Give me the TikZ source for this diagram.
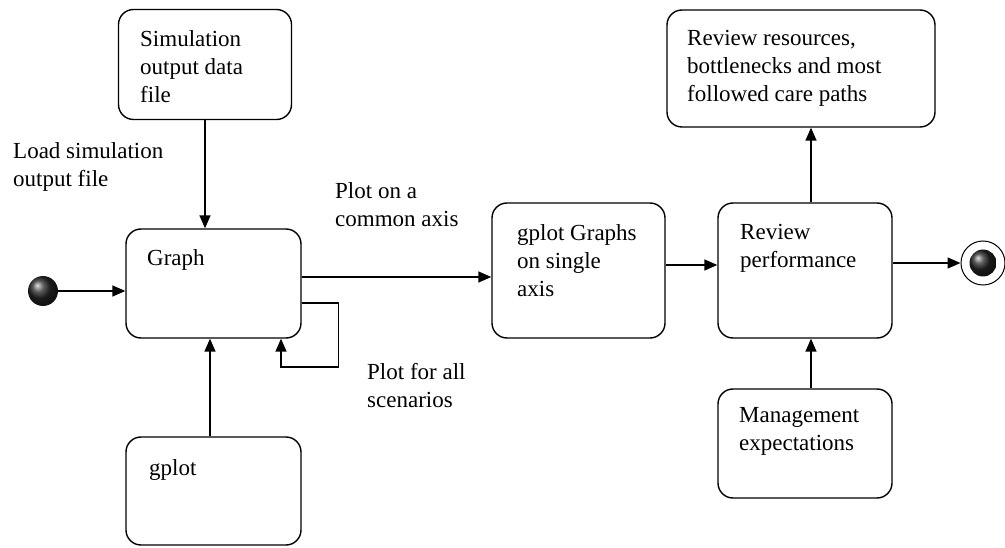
\documentclass[tikz,border=0pt]{standalone}
\usepackage{fontspec}
\setmainfont{Liberation Serif}
\usetikzlibrary{arrows.meta,shadings}
\begin{document}
\begin{tikzpicture}[x=1pt,y=-1pt,
    state/.style={draw, rounded corners=15pt, line width=1.4pt, inner sep=0pt},
    txt/.style={anchor=north west, align=left, inner sep=0pt,
      font=\fontsize{23}{28}\selectfont},
    flow/.style={line width=1.5pt, -{Triangle[length=13pt,width=11pt]}}]
  \useasboundingbox (0,0) rectangle (1005,548);
  % start and end points
  \node[circle, minimum size=30pt, inner sep=0pt, ball color=black!85] (start) at (43,291) {};
  \node[circle, draw, line width=1pt, minimum size=44pt, inner sep=0pt] (end) at (983,263) {};
  \shade[ball color=black!85] (end) circle (13.5pt);
  % states
  \node[state, minimum width=173pt, minimum height=110pt] (simfile) at (205,64.5) {};
  \node[state, minimum width=175pt, minimum height=109pt] (graph) at (213.5,283.5) {};
  \node[state, minimum width=175pt, minimum height=108pt] (gplot) at (213.5,491) {};
  \node[state, minimum width=173pt, minimum height=135pt] (gplotgraphs) at (578.5,270.5) {};
  \node[state, minimum width=174pt, minimum height=135pt] (review) at (805,270.5) {};
  \node[state, minimum width=268pt, minimum height=117pt] (resources) at (801,68.5) {};
  \node[state, minimum width=174pt, minimum height=109pt] (mgmt) at (805,443.5) {};
  % texts
  \node[txt] (simfiletxt) at (140,30) {Simulation\\output data\\file};
  \node[txt] (graphtxt) at (147,249) {Graph};
  \node[txt] (gplottxt) at (149,459) {gplot};
  \node[txt] (gplotgraphstxt) at (517,224) {gplot Graphs\\on single\\axis};
  \node[txt] (reviewtxt) at (740,224) {Review\\performance};
  \node[txt] (resourcestxt) at (687,30) {Review resources,\\bottlenecks and most\\followed care paths};
  \node[txt] (mgmttxt) at (739,407) {Management\\expectations};
  \node[txt] (loadlbl) at (13,142) {Load simulation\\output file};
  \node[txt] (commonlbl) at (335,182) {Plot on a\\common axis};
  \node[txt] (alllbl) at (367,363) {Plot for all\\scenarios};
  % transitions
  \draw[flow] (start.east) -- (start -| graph.west);
  \draw[flow] (simfile.south) -- (simfile.south |- graph.north);
  \draw[flow] ([xshift=-3.5pt]gplot.north) -- ([xshift=-3.5pt]graph.south);
  \draw[flow] ([yshift=6.5pt]graph.east) -- ([yshift=6.5pt]graph.east -| gplotgraphs.west);
  \draw[flow] ([yshift=-19.5pt]graph.east) -| ++(37,64) -| ([xshift=67.5pt]graph.south);
  \draw[flow] ([yshift=5.5pt]gplotgraphs.east) -- ([yshift=5.5pt]review.west);
  \draw[flow] ([yshift=7.5pt]review.east) -- (end.west);
  \draw[flow] ([xshift=6pt]review.north) -- ([xshift=6pt]review.north |- resources.south);
  \draw[flow] ([xshift=6pt]mgmt.north) -- ([xshift=6pt]review.south);
\end{tikzpicture}
\end{document}
